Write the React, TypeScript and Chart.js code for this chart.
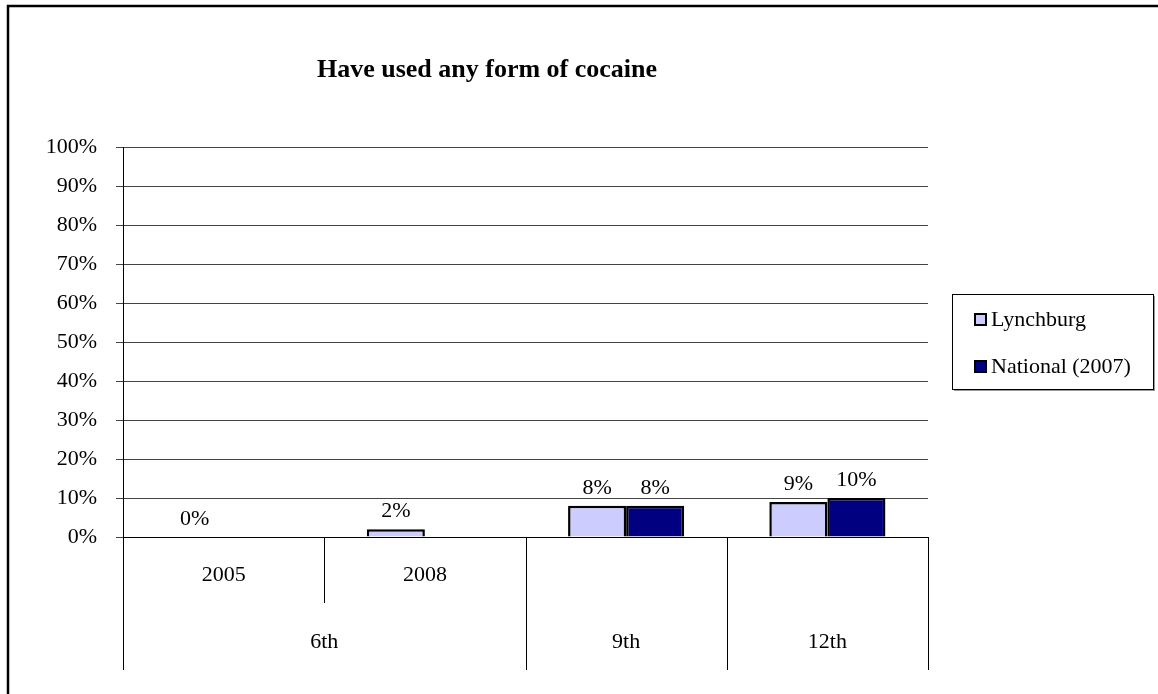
import React, { useEffect, useRef } from 'react';
import { Chart, registerables } from 'chart.js';

Chart.register(...registerables);

const categories = ['2005', '2008', '', ''];
const groups = ['6th', '6th', '9th', '12th'];
const lynchburg: (number | null)[] = [0, 2, 8, 9];
const national: (number | null)[] = [null, null, 8, 10];
const seriesNames = ['Lynchburg', 'National (2007)'];
const seriesColors = ['#CCCCFF', '#000080'];
const chartTitle = 'Have used any form of cocaine';

const FONT = "'Liberation Serif', 'Times New Roman', serif";

const decorPlugin = {
  id: 'decor',
  beforeDraw(chart: any) {
    const ctx = chart.ctx;
    ctx.save();
    ctx.fillStyle = '#ffffff';
    ctx.fillRect(0, 0, chart.width, chart.height);
    ctx.strokeStyle = '#000000';
    ctx.lineWidth = 2.5;
    ctx.strokeRect(8, 6, chart.width + 50, chart.height + 50);
    ctx.restore();
  },
  afterDraw(chart: any) {
    const ctx = chart.ctx;
    const area = chart.chartArea;
    const xs = chart.scales.x;
    ctx.save();

    // Title
    ctx.fillStyle = '#000';
    ctx.font = `bold 26px ${FONT}`;
    ctx.textAlign = 'center';
    ctx.textBaseline = 'alphabetic';
    ctx.fillText(chartTitle, 487, 77);

    // Category separators and group labels
    const n = categories.length;
    const half = (xs.getPixelForValue(1) - xs.getPixelForValue(0)) / 2;
    ctx.strokeStyle = '#000';
    ctx.lineWidth = 1;
    for (let j = 0; j <= n; j++) {
      const xpx = j < n ? xs.getPixelForValue(j) - half : xs.getPixelForValue(n - 1) + half;
      const long = j === 0 || j === n || groups[j] !== groups[j - 1];
      const len = long ? 133 : 66;
      ctx.beginPath();
      ctx.moveTo(Math.round(xpx) + 0.5, area.bottom);
      ctx.lineTo(Math.round(xpx) + 0.5, area.bottom + len);
      ctx.stroke();
    }
    ctx.font = `22px ${FONT}`;
    ctx.textAlign = 'center';
    ctx.textBaseline = 'middle';
    let start = 0;
    for (let j = 1; j <= n; j++) {
      if (j === n || groups[j] !== groups[start]) {
        const l = xs.getPixelForValue(start) - half;
        const r = xs.getPixelForValue(j - 1) + half;
        ctx.fillText(groups[start], (l + r) / 2, area.bottom + 105);
        start = j;
      }
    }

    // Value labels
    ctx.textBaseline = 'alphabetic';
    chart.data.datasets.forEach((ds: any, di: number) => {
      const meta = chart.getDatasetMeta(di);
      meta.data.forEach((bar: any, i: number) => {
        const v = ds.data[i];
        if (v === null || v === undefined) return;
        ctx.fillText(`${v}%`, bar.x, bar.y - 12);
      });
    });

    // Legend
    ctx.save();
    ctx.fillStyle = '#999';
    ctx.fillRect(954, 389, 201, 2);
    ctx.fillRect(1153, 296, 2, 95);
    ctx.restore();
    ctx.lineWidth = 1;
    ctx.strokeStyle = '#000';
    ctx.strokeRect(952.5, 294.5, 201, 95);
    ctx.textAlign = 'left';
    const baselines = [326, 373];
    chart.data.datasets.forEach((ds: any, di: number) => {
      const by = baselines[di];
      ctx.fillStyle = ds.backgroundColor;
      ctx.fillRect(975, by - 12, 11, 11);
      ctx.lineWidth = 2;
      ctx.strokeRect(975, by - 12, 11, 11);
      ctx.fillStyle = '#000';
      ctx.fillText(ds.label, 991, by);
    });

    ctx.restore();
  },
};

export default function App() {
  const ref = useRef<HTMLCanvasElement | null>(null);
  useEffect(() => {
    if (!ref.current) return;
    const chart = new Chart(ref.current, {
      type: 'bar',
      data: {
        labels: categories,
        datasets: [
          {
            label: seriesNames[0],
            data: lynchburg,
            backgroundColor: seriesColors[0],
            borderColor: '#000',
            borderWidth: 2.5,
          },
          {
            label: seriesNames[1],
            data: national,
            backgroundColor: seriesColors[1],
            borderColor: '#000',
            borderWidth: 2.5,
          },
        ],
      },
      options: {
        animation: false,
        responsive: false,
        devicePixelRatio: 1,
        layout: { padding: { left: 0, top: 147, right: 230, bottom: 0 } },
        datasets: { bar: { categoryPercentage: 0.577, barPercentage: 1 } },
        plugins: {
          legend: { display: false },
          title: { display: false },
          tooltip: { enabled: false },
        },
        scales: {
          x: {
            type: 'category',
            grid: { display: false, drawTicks: false, tickLength: 0 },
            border: { display: true, color: '#000', width: 1 },
            ticks: {
              color: '#000',
              font: { family: FONT, size: 22 },
              padding: 25,
              maxRotation: 0,
              autoSkip: false,
            },
            afterFit(scale: any) {
              scale.height = 157;
            },
          },
          y: {
            min: 0,
            max: 100,
            grid: { color: '#444', tickLength: 7, drawTicks: true },
            border: { display: true, color: '#000', width: 1 },
            ticks: {
              stepSize: 10,
              color: '#000',
              padding: 19,
              font: { family: FONT, size: 22 },
              callback: (v: any) => `${v}%`,
            },
            afterFit(scale: any) {
              scale.width = 123;
            },
          },
        },
      } as any,
      plugins: [decorPlugin],
    });
    return () => chart.destroy();
  }, []);
  return (
    <div style={{ position: 'fixed', left: 0, top: 0, width: 1158, height: 694 }}>
      <canvas ref={ref} width={1158} height={694} style={{ display: 'block', width: 1158, height: 694 }} />
    </div>
  );
}
